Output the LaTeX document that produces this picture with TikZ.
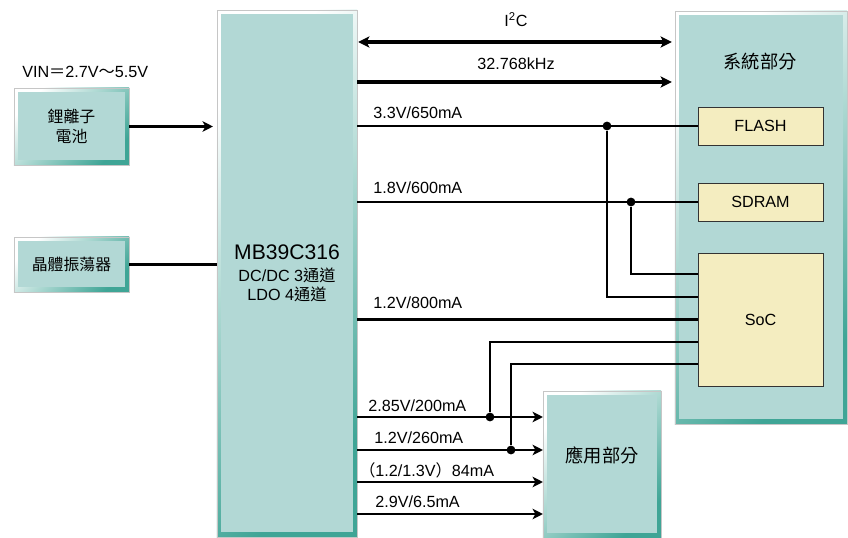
\documentclass[tikz,border=0pt]{standalone}
\usepackage{fontspec}
\setmainfont{Liberation Sans}
\newfontfamily\cjk{Noto Sans CJK TC}
\usetikzlibrary{arrows.meta,positioning}
\definecolor{panelfill}{HTML}{B2D8D5}
\definecolor{paneledge}{HTML}{3FA596}
\definecolor{chipfill}{HTML}{F4EDC0}
\tikzset{
  panel/.style={
    draw = gray!45,
    line width = 0.3pt,
    top color = white,
    bottom color = paneledge,
    shading angle = 45,
    inner sep = 0pt,
    outer sep = 0pt,
    path picture={
      \fill[panelfill] ([shift={(0.1cm,-0.1cm)}]path picture bounding box.north west)
        rectangle ([shift={(-0.1cm,0.12cm)}]path picture bounding box.south east);
    }
  },
  chip/.style={
    draw = black!80,
    line width = 0.5pt,
    fill = chipfill,
    minimum width = 3.125cm,
    inner sep = 0pt
  },
  wire/.style={
    line width = 1.5pt
  },
  bus/.style={
    line width = 2.6pt
  },
  junc/.style={
    shape = circle,
    fill,
    inner sep = 0pt,
    minimum size = 0.22cm
  },
  rail/.style={
    anchor = west,
    inner sep = 0pt
  },
  every picture/.style = {
    font=\fontsize{11.5}{13.5}\selectfont
  }
}

\begin{document}
\begin{tikzpicture}[x=0.025cm,y=-0.025cm,
    tip/.style={-{Stealth[length=2.6mm,width=2.6mm,inset=0.7mm]}}]
    \useasboundingbox (0,0) rectangle (848,538);
    % boxes
    \node[panel, minimum width=3.5cm, minimum height=13.175cm, align=center] (pmic) at (287,273.5)
      {{\fontsize{15}{17}\selectfont MB39C316}\\[2pt] DC/DC 3{\cjk 通道}\\ LDO 4{\cjk 通道}};
    \node[panel, minimum width=2.875cm, minimum height=1.925cm, align=center,
      font=\cjk\fontsize{11.3}{14}\selectfont] (batt) at (71.5,126.5) {鋰離子\\電池};
    \node[panel, minimum width=2.875cm, minimum height=1.375cm,
      font=\cjk\fontsize{11.3}{14}\selectfont] (xtal) at (71.5,264.5) {晶體振蕩器};
    \node[panel, minimum width=4.3cm, minimum height=10.325cm] (sys) at (761,217.5) {};
    \node[font=\cjk\fontsize{13}{15}\selectfont] (systitle) at (760,62) {系統部分};
    \node[panel, minimum width=2.95cm, minimum height=3.675cm] (app) at (602,464.5) {};
    \node[font=\cjk\fontsize{13}{15}\selectfont] (apptitle) at (602,455) {應用部分};
    \node[chip, minimum height=0.95cm] (flash) at (760.5,126) {FLASH};
    \node[chip, minimum height=0.95cm] (sdram) at (760.5,202) {SDRAM};
    \node[chip, minimum height=3.325cm] (soc) at (760.5,319.5) {SoC};
    \node[rail] (vin) at (22,72) {VIN{\cjk ＝}2.7V{\cjk ～}5.5V};

    % rows
    \coordinate (ri2c) at (0,42);
    \coordinate (rclk) at (0,82);
    \coordinate (r33) at (0,297);
    \coordinate (r18) at (0,274);
    \coordinate (s285) at (0,342);
    \coordinate (s12) at (0,364);
    \coordinate (a285) at (0,417);
    \coordinate (a12) at (0,450);
    \coordinate (a84) at (0,482);
    \coordinate (a29) at (0,514);

    % inputs
    \draw[wire,tip] (batt.east) -- ([xshift=-0.1cm]batt.east -| pmic.west);
    \draw[wire] (xtal.east) -- (xtal.east -| pmic.west);

    % to system part
    \draw[bus,{Stealth[length=2.8mm,width=2.8mm,inset=0.7mm]}-{Stealth[length=2.8mm,width=2.8mm,inset=0.7mm]}]
      ([xshift=0.03cm]pmic.east |- ri2c) -- ([xshift=-0.08cm]sys.west |- ri2c);
    \draw[bus,-{Stealth[length=2.8mm,width=2.8mm,inset=0.7mm]}]
      (pmic.east |- rclk) -- ([xshift=-0.08cm]sys.west |- rclk);
    \node (i2c) at (516,20) {I\textsuperscript{2}C};
    \node (clk) at (516,64) {32.768kHz};

    \draw[wire] (pmic.east |- flash.west) -- (flash.west);
    \draw[wire] (pmic.east |- sdram.west) -- (sdram.west);
    \draw[wire] (pmic.east |- soc.west) -- (soc.west);
    \node[junc] (j33) at (607,126) {};
    \node[junc] (j18) at (631,202) {};
    \draw[wire] (j33) |- (soc.west |- r33);
    \draw[wire] (j18) |- (soc.west |- r18);
    \node[rail] (l33) at (373,113) {3.3V/650mA};
    \node[rail] (l18) at (373,188) {1.8V/600mA};
    \node[rail] (l12a) at (373,303) {1.2V/800mA};

    % to application part
    \foreach \r in {a285,a12,a84,a29}{
      \draw[wire,tip] (pmic.east |- \r) -- (app.west |- \r);
    }
    \node[junc] (j285) at (490,417) {};
    \node[junc] (j12) at (511,450) {};
    \draw[wire] (soc.west |- s285) -| (j285);
    \draw[wire] (soc.west |- s12) -| (j12);
    \node[rail] (l285) at (368,406) {2.85V/200mA};
    \node[rail] (l12b) at (374,438) {1.2V/260mA};
    \node[rail] (l84) at (359,470) {{\cjk （}1.2/1.3V{\cjk ）}84mA};
    \node[rail] (l29) at (375,502) {2.9V/6.5mA};
\end{tikzpicture}
\end{document}
